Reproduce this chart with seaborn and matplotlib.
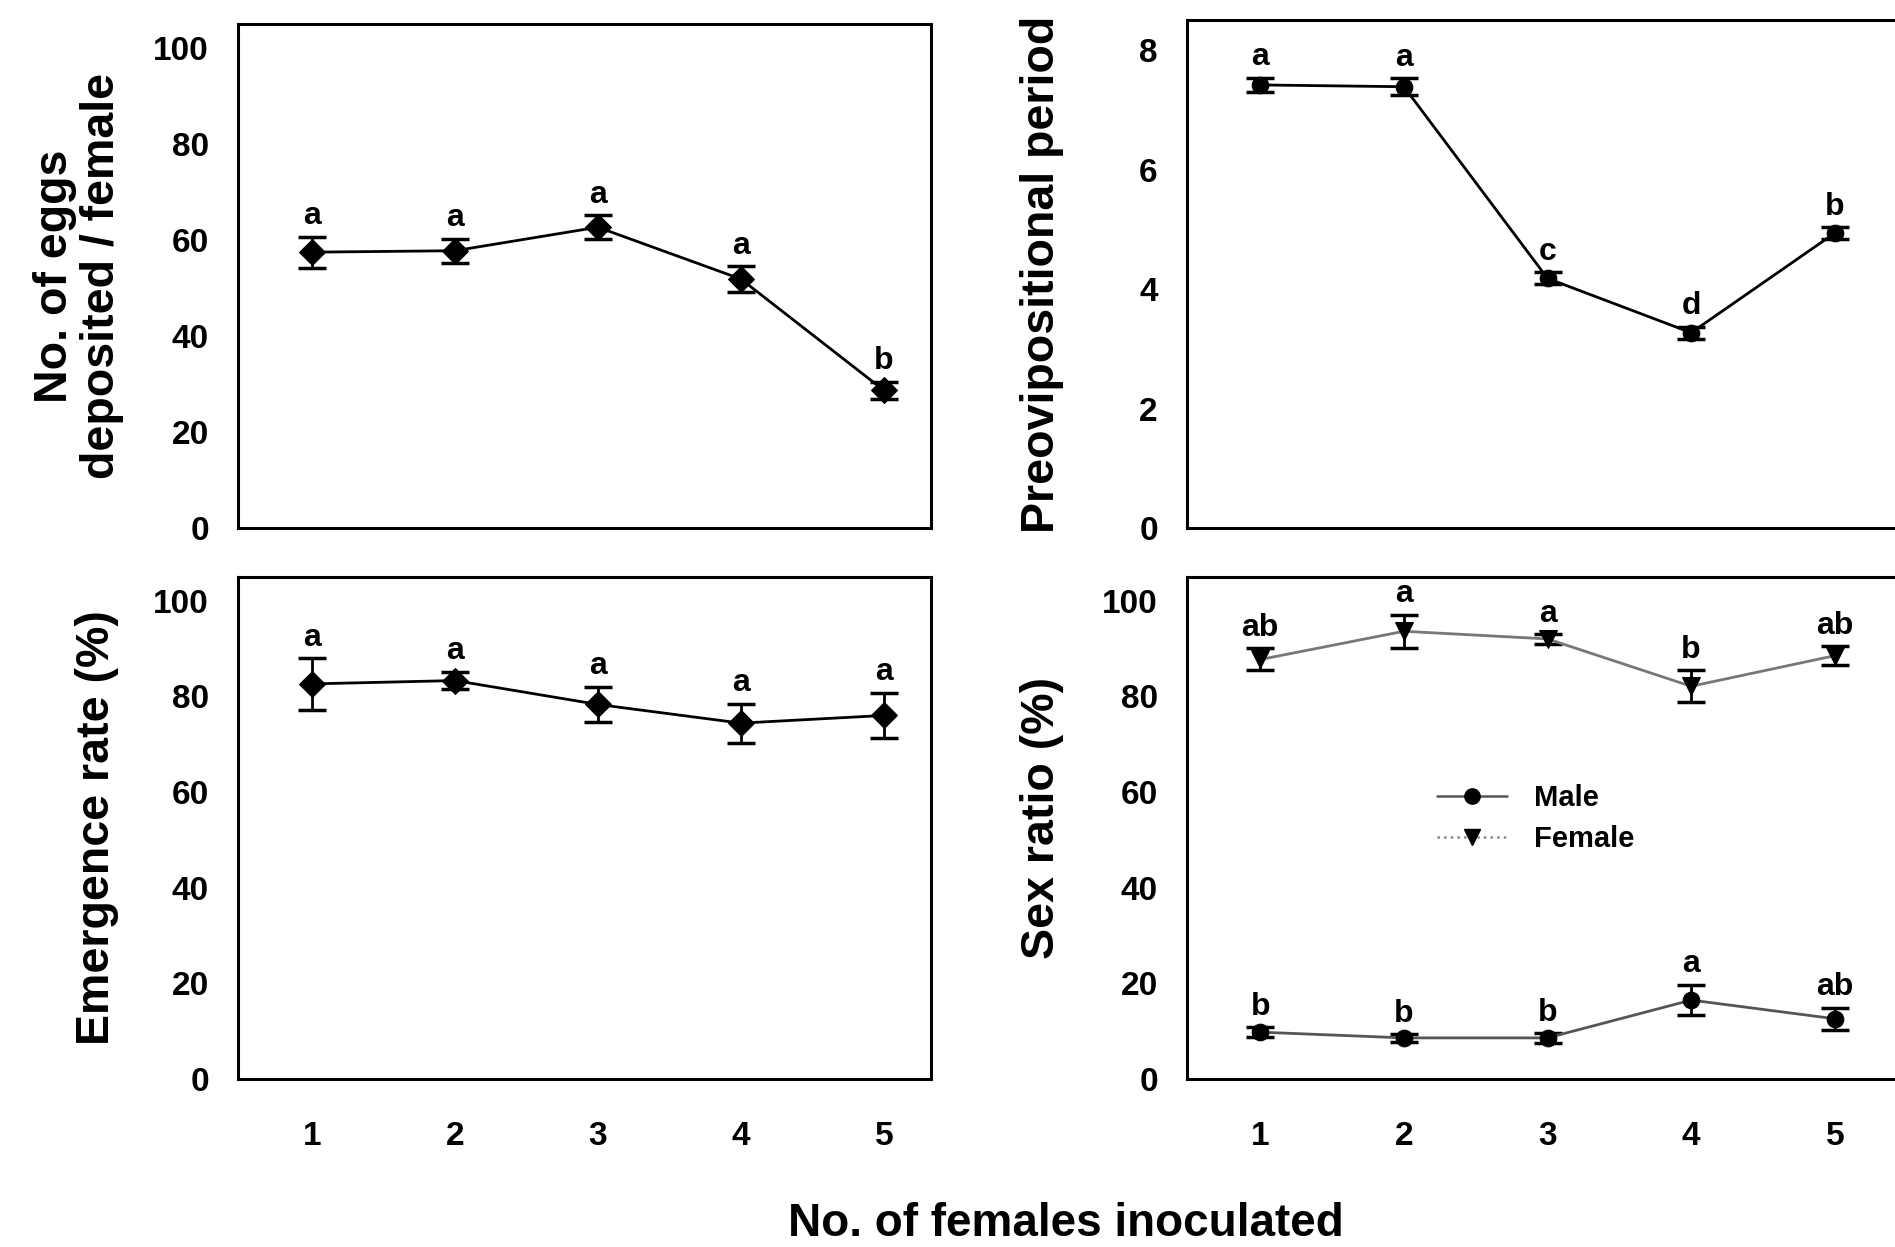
import numpy as np
import pandas as pd
import seaborn as sns
import matplotlib
import matplotlib.pyplot as plt
from matplotlib.lines import Line2D

# values (mean +/- SE), x = number of females inoculated
females = [1, 2, 3, 4, 5]

eggs_mean = [57.5, 57.8, 62.7, 51.9, 28.7]
eggs_se = [3.2, 2.5, 2.5, 2.7, 1.8]
eggs_letters = ["a", "a", "a", "a", "b"]

preovi_mean = [7.42, 7.39, 4.18, 3.27, 4.94]
preovi_se = [0.12, 0.14, 0.10, 0.10, 0.10]
preovi_letters = ["a", "a", "c", "d", "b"]

emerg_mean = [82.6, 83.3, 78.3, 74.4, 76.0]
emerg_se = [5.4, 1.8, 3.7, 4.1, 4.7]
emerg_letters = ["a", "a", "a", "a", "a"]

female_mean = [87.7, 93.6, 92.0, 82.1, 88.5]
female_se = [2.3, 3.5, 1.0, 3.3, 2.0]
female_letters = ["ab", "a", "a", "b", "ab"]

male_mean = [9.8, 8.6, 8.6, 16.5, 12.6]
male_se = [1.0, 0.8, 1.0, 3.2, 2.3]
male_letters = ["b", "b", "b", "a", "ab"]

sns.set_style("white")
plt.rcParams["font.family"] = ["Liberation Sans", "DejaVu Sans"]
plt.rcParams["font.weight"] = "bold"
plt.rcParams["axes.labelweight"] = "bold"
plt.rcParams["text.color"] = "black"
plt.rcParams["axes.labelcolor"] = "black"
plt.rcParams["xtick.color"] = "black"
plt.rcParams["ytick.color"] = "black"

TICK_FS = 24
LETTER_FS = 23
LABEL_FS = 33.5


def draw_series(ax, mean, se, letters, marker, color="black", msize=13, label=None):
    df = pd.DataFrame({"x": females, "y": mean})
    ax.errorbar(females, mean, yerr=se, fmt="none", ecolor="black",
                elinewidth=2, capsize=10, capthick=2.5, zorder=3)
    sns.lineplot(data=df, x="x", y="y", ax=ax, color=color, lw=2,
                 marker=marker, markersize=msize, markerfacecolor="black",
                 markeredgecolor="black", errorbar=None, legend=False,
                 label=label, zorder=4)
    for x, m, s, t in zip(females, mean, se, letters):
        ax.annotate(t, (x, m + s), xytext=(0, 9), textcoords="offset points",
                    ha="center", va="baseline", fontsize=LETTER_FS,
                    fontweight="bold", color="black")


def style_axis(ax, ylim, yticks, xlim, show_x):
    ax.set_xlim(*xlim)
    ax.set_ylim(*ylim)
    ax.set_yticks(yticks)
    ax.set_xticks(females)
    for sp in ax.spines.values():
        sp.set_visible(True)
        sp.set_color("black")
        sp.set_linewidth(2.2)
    ax.tick_params(axis="y", direction="out", length=4, width=1,
                   pad=17, labelsize=TICK_FS, colors="black")
    ax.tick_params(axis="x", direction="out", length=4, width=1,
                   pad=26, labelsize=TICK_FS, labelbottom=show_x, colors="black")
    for lab in ax.get_xticklabels() + ax.get_yticklabels():
        lab.set_fontweight("bold")
    ax.set_xlabel("")


fig = plt.figure(figsize=(18.95, 12.47), dpi=100)

ax_eggs = fig.add_axes([0.1256, 0.5766, 0.3657, 0.4039])
ax_pre = fig.add_axes([0.6264, 0.5766, 0.3873, 0.4070])
ax_emg = fig.add_axes([0.1256, 0.1347, 0.3657, 0.4028])
ax_sex = fig.add_axes([0.6264, 0.1347, 0.3873, 0.4028])

left_xlim = (0.483, 5.33)
right_xlim = (0.49, 5.6)

# egg production
draw_series(ax_eggs, eggs_mean, eggs_se, eggs_letters, "D")
style_axis(ax_eggs, (0, 105), [0, 20, 40, 60, 80, 100], left_xlim, False)
ax_eggs.set_ylabel("No. of eggs\ndeposited / female", fontsize=LABEL_FS,
                   fontweight="bold", va="center", linespacing=1.1)
ax_eggs.yaxis.set_label_coords(-0.230, 0.5)

# preovipositional period
draw_series(ax_pre, preovi_mean, preovi_se, preovi_letters, "o", msize=12)
style_axis(ax_pre, (0, 8.5), [0, 2, 4, 6, 8], right_xlim, False)
ax_pre.set_ylabel("Preovipositional period", fontsize=LABEL_FS,
                  fontweight="bold", va="center")
ax_pre.yaxis.set_label_coords(-0.198, 0.5)

# emergence rate
draw_series(ax_emg, emerg_mean, emerg_se, emerg_letters, "D")
style_axis(ax_emg, (0, 105), [0, 20, 40, 60, 80, 100], left_xlim, True)
ax_emg.set_ylabel("Emergence rate (%)", fontsize=LABEL_FS,
                  fontweight="bold", va="center")
ax_emg.yaxis.set_label_coords(-0.204, 0.5)

# sex ratio
draw_series(ax_sex, male_mean, male_se, male_letters, "o", color="#555555", msize=12)
draw_series(ax_sex, female_mean, female_se, female_letters, "v", color="#777777", msize=13)
style_axis(ax_sex, (0, 105), [0, 20, 40, 60, 80, 100], right_xlim, True)
ax_sex.set_ylabel("Sex ratio (%)", fontsize=LABEL_FS,
                  fontweight="bold", va="center")
ax_sex.yaxis.set_label_coords(-0.198, 0.52)

legend_elements = [
    Line2D([0], [0], color="#555555", lw=1.8, marker="o", markersize=11,
           markerfacecolor="black", markeredgecolor="black", label="Male"),
    Line2D([0], [0], color="#888888", lw=1.8, ls=":", marker="v", markersize=12,
           markerfacecolor="black", markeredgecolor="black", label="Female"),
]
ax_sex.legend(handles=legend_elements, loc="center left",
              bbox_to_anchor=(2.05, 54.5), bbox_transform=ax_sex.transData,
              frameon=False, handlelength=2.4, handletextpad=0.9,
              labelspacing=0.45, prop={"size": 21, "weight": "bold"})

fig.text(0.5625, 0.0184, "No. of females inoculated", ha="center", va="center",
         fontsize=33, fontweight="bold")

plt.savefig("out.png", dpi=100)
